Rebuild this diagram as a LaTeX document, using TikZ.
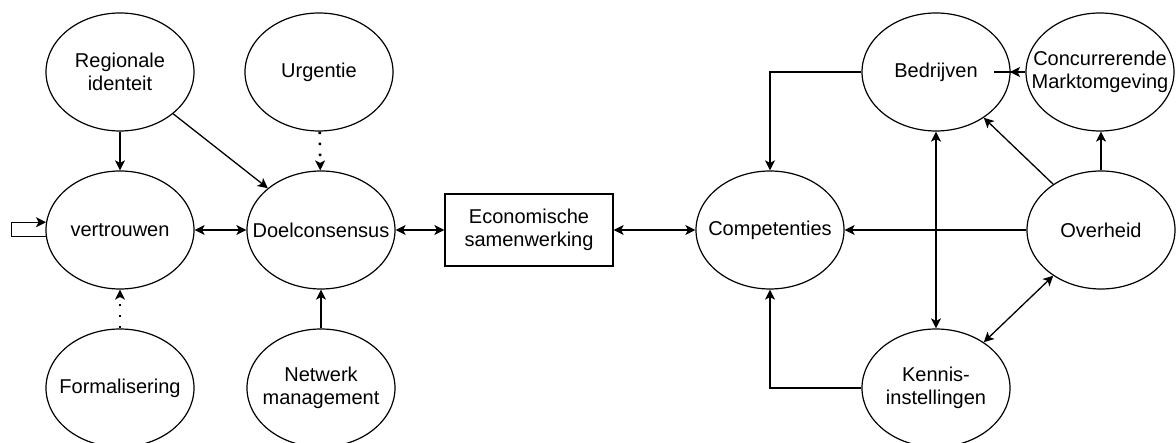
\documentclass[tikz,border=0pt]{standalone}
\usepackage{fontspec}
\setmainfont{Liberation Sans}
\usetikzlibrary{shapes.geometric,arrows.meta,decorations.markings}

\begin{document}
\begin{tikzpicture}[x=1pt,y=-1pt,
  txt/.style={font=\fontsize{20}{23}\selectfont,align=center},
  ell/.style={txt,ellipse,draw,line width=1.2pt,minimum width=148pt,minimum height=118pt,inner sep=-30pt},
  box/.style={txt,rectangle,draw,line width=1.2pt,minimum width=168pt,minimum height=72pt,inner sep=0pt},
  arr/.style={line width=1.3pt,-{Stealth[length=10pt,width=10pt,inset=2.5pt]}},
  darr/.style={line width=1.3pt,{Stealth[length=10pt,width=10pt,inset=2.5pt]}-{Stealth[length=10pt,width=10pt,inset=2.5pt]}},
  dotarr/.style={line width=2.6pt,dash pattern=on 2.6pt off 8.4pt,-{Stealth[length=10pt,width=10pt,inset=2.5pt,line width=1pt]}}
]
\useasboundingbox (0,0) rectangle (1176,443);

% left cluster
\node[ell] (R) at (120,72) {Regionale\\identeit};
\node[ell] (U) at (319,72) {Urgentie};
\node[ell] (V) at (120,230) {vertrouwen};
\node[ell] (D) at (321,230) {Doelconsensus};
\node[ell] (F) at (120,388) {Formalisering};
\node[ell] (N) at (321,388) {Netwerk\\management};

% centre
\node[box] (E) at (529,230) {Economische\\samenwerking};

% right cluster
\node[ell] (C) at (770,230) {Competenties};
\node[ell] (B) at (936,72) {Bedrijven};
\node[ell] (M) at (1100,72) {Concurrerende\\Marktomgeving};
\node[ell] (O) at (1101,230) {Overheid};
\node[ell] (K) at (936,388) {Kennis-\\instellingen};

% left connectors
\draw[arr] (R) -- (V);
\draw[arr] (R) -- (D);
\draw[dotarr] (U) -- (D);
\draw[dotarr] (F) -- (V);
\draw[arr] (N) -- (D);
\draw[darr] (V) -- (D);
\draw[arr] (V.185) -- ++(-34,0) |- (V.174);

% centre connectors
\draw[darr] (D) -- (E);
\draw[darr] (E) -- (C);

% right connectors
\draw[arr] (B.west) -| (C.north);
\draw[arr] (K.west) -| (C.south);
\draw[arr] (O) -- (C);
\draw[arr] (O) -- (B);
\draw[darr] (O) -- (K);
\draw[darr] (B) -- (K);
\draw[arr] (O.north) -- (O.north |- M.south);
\draw[line width=1.3pt,
      decoration={markings,mark=at position 0.485 with {\arrow{Stealth[length=10pt,width=10pt,inset=2.5pt]}}},
      postaction={decorate}]
  (M.west) -- ([xshift=-17pt]B.east);
\end{tikzpicture}
\end{document}
